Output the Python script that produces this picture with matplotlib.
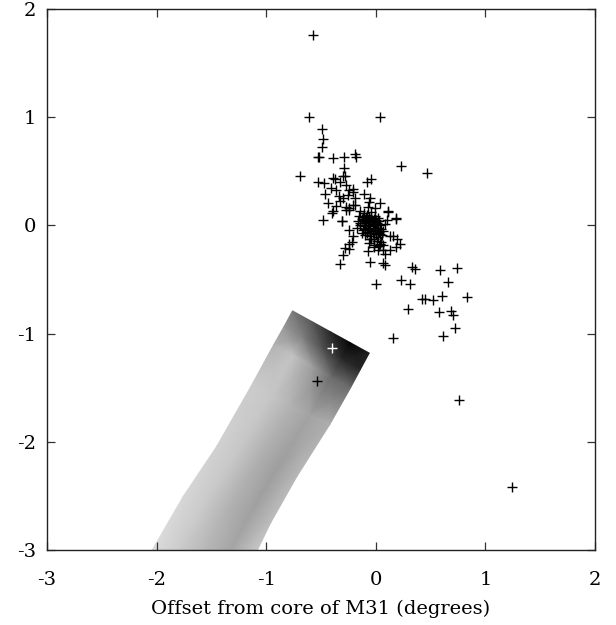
import matplotlib
matplotlib.use("Agg")
import matplotlib.pyplot as plt
import numpy as np

plt.rcParams['font.family'] = ['DejaVu Serif']
plt.rcParams['axes.unicode_minus'] = False

# ---- scatter data (degrees offset from M31 core) ----
pts_x = [-0.57, -0.61, 0.04, -0.49, -0.48, -0.49, -0.53, -0.52, -0.39, -0.29,
         -0.19, -0.18, -0.29, 0.23, -0.69, 0.47, -0.28, -0.39, -0.37, -0.53,
         -0.47, -0.33, -0.27, -0.08, -0.04, -0.46, -0.21, -0.34, -0.33, -0.30,
         -0.25, -0.11, -0.40, -0.48, -0.31, -0.24, -0.27, -0.21, -0.06, 0.04,
         0.11, 0.18, -0.24, -0.22, -0.24, -0.30, -0.33, -0.05, 0.33, 0.36,
         0.74, 0.59, 0.00, 0.23, 0.31, 0.66, 0.42, 0.45, 0.52, 0.60,
         0.83, 0.29, 0.58, 0.69, 0.70, 0.72, 0.61, 0.16, 0.76, 1.24,
         -0.54, -0.30, -0.41, -0.24, -0.21, -0.05, -0.19, -0.27, -0.24, -0.19,
         -0.14, -0.39, -0.31, -0.07, -0.01, 0.11, 0.18, 0.10, -0.21, -0.24,
         -0.28, -0.14, -0.10, -0.05, -0.02, 0.04, 0.07, 0.13, 0.19, 0.22,
         -0.08, -0.05, -0.02, -0.07, 0.02, 0.07, 0.08, 0.13, 0.16, 0.18,
         0.07, 0.08, -0.44, -0.36, -0.36,
         -0.12, -0.10, -0.08, -0.06, -0.04, -0.02, 0.00, 0.02, -0.14, -0.11,
         -0.09, -0.07, -0.05, -0.03, -0.01, 0.01, 0.03, 0.05, -0.13, -0.06,
         -0.04, -0.02, 0.00, -0.08, -0.10, -0.05, 0.02, 0.04, -0.16, -0.15,
         -0.01, 0.06, -0.03, -0.07, -0.09, -0.11, 0.03, -0.12, 0.01, -0.04,
         0.07, -0.06, 0.05, -0.13, -0.17, 0.08, -0.02, 0.03, -0.07, -0.03,
         0.00, -0.09, -0.05, 0.02, -0.01, -0.06, -0.11, 0.04]
pts_y = [1.76, 1.00, 1.00, 0.89, 0.80, 0.72, 0.63, 0.63, 0.62, 0.63,
         0.66, 0.63, 0.53, 0.55, 0.46, 0.48, 0.46, 0.44, 0.43, 0.40,
         0.39, 0.40, 0.37, 0.40, 0.43, 0.29, 0.34, 0.27, 0.23, 0.25,
         0.28, 0.29, 0.11, 0.05, 0.04, 0.16, 0.14, 0.19, 0.22, 0.21,
         0.12, 0.06, -0.04, -0.15, -0.22, -0.27, -0.36, -0.34, -0.38, -0.40,
         -0.39, -0.41, -0.54, -0.50, -0.54, -0.52, -0.68, -0.68, -0.69, -0.65,
         -0.66, -0.77, -0.80, -0.79, -0.83, -0.95, -1.02, -1.04, -1.61, -2.42,
         -1.44, 0.46, 0.35, 0.33, 0.31, 0.25, 0.25, 0.17, 0.14, 0.19,
         0.13, 0.13, 0.04, 0.17, 0.16, 0.13, 0.07, 0.05, -0.10, -0.17,
         -0.21, 0.00, -0.03, -0.07, -0.13, -0.17, -0.23, -0.10, -0.13, -0.17,
         -0.07, -0.13, -0.20, -0.24, -0.23, -0.18, -0.26, -0.23, -0.10, -0.20,
         -0.35, -0.37, 0.21, 0.18, 0.33,
         0.08, 0.05, 0.10, 0.03, 0.07, 0.01, 0.05, -0.02, 0.02, -0.01,
         0.00, -0.03, -0.01, -0.05, -0.02, 0.02, -0.06, -0.03, 0.06, 0.08,
         0.12, 0.06, -0.08, -0.06, -0.09, -0.10, -0.11, 0.00, 0.04, 0.09,
         0.09, -0.09, 0.03, 0.05, 0.07, 0.11, 0.04, -0.04, -0.14, -0.13,
         -0.05, -0.16, -0.15, -0.07, -0.02, 0.01, -0.18, -0.19, 0.00, -0.07,
         0.02, 0.03, 0.04, 0.07, -0.04, -0.02, 0.02, -0.08]

# star drawn in white over the dark part of the stream
white_x = [-0.40]
white_y = [-1.13]

# ---- stream model: edges (stations along stream) and gray levels ----
left_x = [-0.76, -0.84, -0.93, -1.14, -1.45, -1.76, -2.04]
left_y = [-0.79, -0.94, -1.10, -1.49, -2.04, -2.51, -3.00]
right_x = [-0.06, -0.14, -0.23, -0.42, -0.72, -0.96, -1.08]
right_y = [-1.18, -1.33, -1.50, -1.84, -2.32, -2.75, -3.00]
across = [0.0, 0.25, 0.5, 0.75, 1.0]
gray_levels = [
    [0.48, 0.34, 0.15, 0.02, 0.12],
    [0.60, 0.50, 0.32, 0.16, 0.15],
    [0.70, 0.76, 0.62, 0.42, 0.42],
    [0.80, 0.78, 0.70, 0.64, 0.68],
    [0.82, 0.78, 0.69, 0.62, 0.72],
    [0.84, 0.79, 0.70, 0.63, 0.74],
    [0.86, 0.80, 0.72, 0.65, 0.78],
]

xticks = [-3, -2, -1, 0, 1, 2]
yticks = [-3, -2, -1, 0, 1, 2]

fig = plt.figure(figsize=(6.16, 6.25), dpi=100)
ax = fig.add_axes([47/616, 75/625, 548/616, 541/625])

lx, ly = np.array(left_x), np.array(left_y)
rx, ry = np.array(right_x), np.array(right_y)
f = np.array(across)
X = lx[:, None] + (rx - lx)[:, None] * f[None, :]
Y = ly[:, None] + (ry - ly)[:, None] * f[None, :]
C = np.array(gray_levels)
ax.pcolormesh(X, Y, C, shading='gouraud', cmap='gray', vmin=0, vmax=1,
              zorder=1)

ax.plot(pts_x, pts_y, linestyle='none', marker='+', color='black',
        markersize=6.5, markeredgewidth=1.0, zorder=3)
ax.plot(white_x, white_y, linestyle='none', marker='+', color='white',
        markersize=6.5, markeredgewidth=1.0, zorder=3)

ax.set_xlim(-3, 2)
ax.set_ylim(-3, 2)
ax.set_xticks(xticks)
ax.set_yticks(yticks)
ax.set_xticklabels([str(t) for t in xticks])
ax.set_yticklabels([str(t) for t in yticks])
ax.tick_params(direction='in', length=6, width=0.9, top=True, right=True,
               labelsize=14, color='#333333')
ax.tick_params(axis='x', pad=15)
ax.tick_params(axis='y', pad=8)
for s in ax.spines.values():
    s.set_linewidth(1.0)
    s.set_color('#222222')
ax.set_xlabel('Offset from core of M31 (degrees)', fontsize=14, labelpad=8)

fig.savefig('out.png', dpi=100)
